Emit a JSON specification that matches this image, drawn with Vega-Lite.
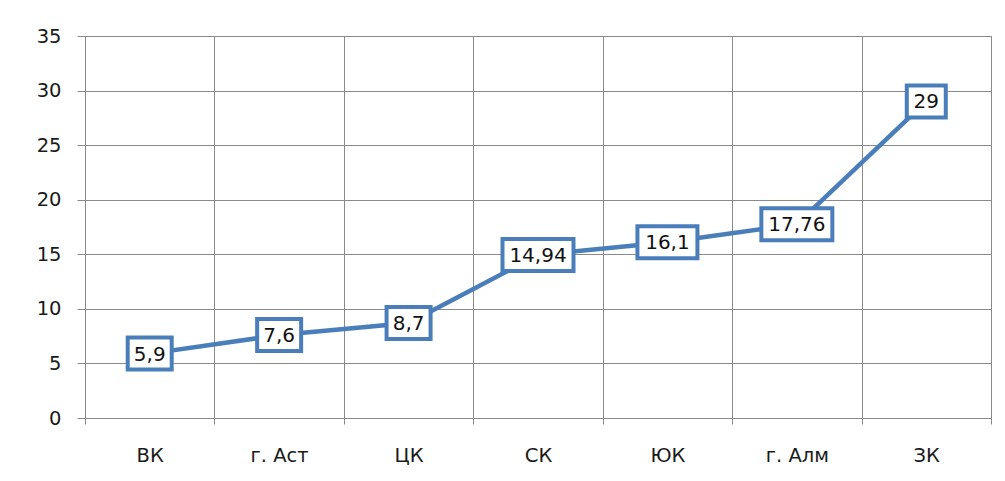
{
  "$schema": "https://vega.github.io/schema/vega-lite/v6.json",
  "width": 906,
  "height": 382,
  "autosize": {"type": "none"},
  "padding": {"left": 85, "top": 36, "right": 14, "bottom": 63},
  "background": "white",
  "config": {
    "locale": {"number": {"decimal": ",", "thousands": " ", "grouping": [3], "currency": ["", ""]}},
    "view": {"stroke": "#8a8a8a", "strokeWidth": 1},
    "font": "DejaVu Sans"
  },
  "data": {
    "values": [
      {"region": "ВК", "value": 5.9},
      {"region": "г. Аст", "value": 7.6},
      {"region": "ЦК", "value": 8.7},
      {"region": "СК", "value": 14.94},
      {"region": "ЮК", "value": 16.1},
      {"region": "г. Алм", "value": 17.76},
      {"region": "ЗК", "value": 29}
    ]
  },
  "encoding": {
    "x": {
      "field": "region",
      "type": "nominal",
      "sort": null,
      "scale": {"paddingInner": 0, "paddingOuter": 0},
      "axis": {
        "title": null,
        "labelAngle": 0,
        "tickBand": "extent",
        "grid": true,
        "gridColor": "#8a8a8a",
        "gridOpacity": 1,
        "domainColor": "#8a8a8a",
        "tickColor": "#8a8a8a",
        "tickSize": 6,
        "labelFontSize": 19.5,
        "labelColor": "#1a1a1a",
        "labelPadding": 22,
        "labelFont": "DejaVu Sans"
      }
    },
    "y": {
      "field": "value",
      "type": "quantitative",
      "scale": {"domain": [0, 35], "nice": false},
      "axis": {
        "title": null,
        "values": [0, 5, 10, 15, 20, 25, 30, 35],
        "grid": true,
        "gridColor": "#8a8a8a",
        "gridOpacity": 1,
        "domain": false,
        "tickColor": "#8a8a8a",
        "tickSize": 8,
        "labelPadding": 16,
        "labelFontSize": 19.5,
        "labelColor": "#1a1a1a",
        "labelFont": "DejaVu Sans"
      }
    }
  },
  "layer": [
    {
      "mark": {"type": "line", "color": "#4A7EBB", "strokeWidth": 4.5}
    },
    {
      "mark": {
        "type": "point",
        "filled": true,
        "fill": "white",
        "stroke": "#4A7EBB",
        "strokeWidth": 4,
        "opacity": 1,
        "fillOpacity": 1,
        "strokeOpacity": 1,
        "strokeJoin": "miter"
      },
      "encoding": {
        "shape": {
          "condition": [
            {"test": "length(toString(datum.value)) == 2", "value": "M-1,-0.8205L1,-0.8205L1,0.8205L-1,0.8205Z"},
            {"test": "length(toString(datum.value)) == 3", "value": "M-1,-0.7273L1,-0.7273L1,0.7273L-1,0.7273Z"},
            {"test": "length(toString(datum.value)) == 4", "value": "M-1,-0.5333L1,-0.5333L1,0.5333L-1,0.5333Z"}
          ],
          "value": "M-1,-0.4507L1,-0.4507L1,0.4507L-1,0.4507Z"
        },
        "size": {
          "condition": [
            {"test": "length(toString(datum.value)) == 2", "value": 1521},
            {"test": "length(toString(datum.value)) == 3", "value": 1936},
            {"test": "length(toString(datum.value)) == 4", "value": 3600}
          ],
          "value": 5041
        }
      }
    },
    {
      "mark": {"type": "text", "fontSize": 20, "color": "#111111", "font": "DejaVu Sans", "baseline": "middle", "dy": 1},
      "encoding": {
        "text": {"field": "value", "type": "quantitative", "format": "~g"}
      }
    }
  ]
}
